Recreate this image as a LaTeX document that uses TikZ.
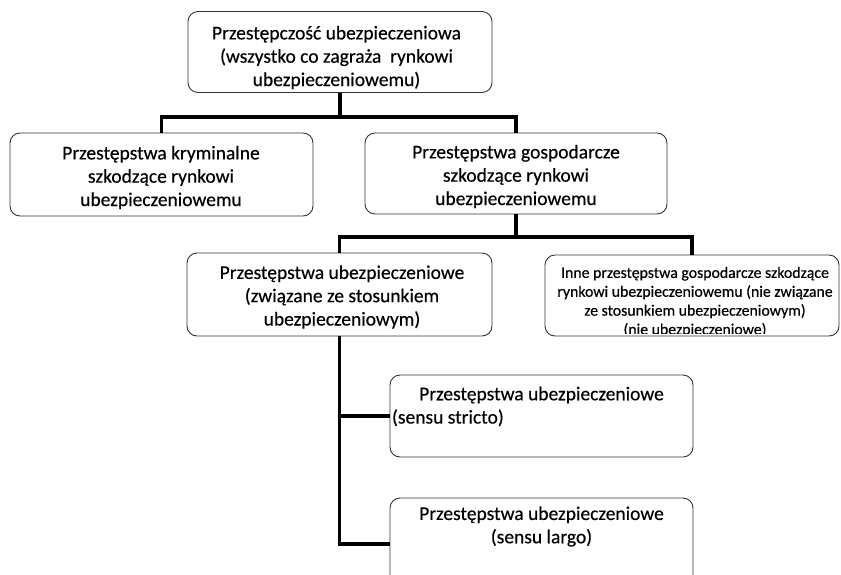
\documentclass[tikz,border=0pt]{standalone}
\usepackage{fontspec}
\setmainfont[FakeBold=0.35]{Carlito}
\begin{document}
\begin{tikzpicture}[x=1pt,y=-1pt,
  box/.style={draw=black!80, line width=0.9pt, rounded corners=10pt, inner sep=0pt},
  txt/.style={align=center, inner sep=0pt, font=\fontsize{19.5}{23.3}\selectfont},
  smalltxt/.style={align=center, inner sep=0pt, font=\fontsize{15.8}{18.9}\selectfont},
  conn/.style={line width=3.6pt, black}]
\clip (0,0) rectangle (841,574);
\fill[white] (0,0) rectangle (841,574);
% boxes
\node[box, minimum width=304pt, minimum height=81pt] (A) at (340,52) {};
\node[box, minimum width=303pt, minimum height=83pt] (B) at (161.5,174.5) {};
\node[box, minimum width=302pt, minimum height=81pt] (C) at (516,173.5) {};
\node[box, minimum width=305pt, minimum height=83pt] (D) at (339.5,294.5) {};
\node[box, minimum width=294pt, minimum height=81pt] (E) at (692,295.5) {};
\node[box, minimum width=303pt, minimum height=82pt] (F) at (541.5,416) {};
\node[box, minimum width=303pt, minimum height=92pt] (G) at (541.5,544) {};
% texts
\node[txt] (At) at (336.5,57.5) {Przestępczość ubezpieczeniowa\\(wszystko co zagraża\ \ rynkowi\\ubezpieczeniowemu)};
\node[txt] (Bt) at (161,177.5) {Przestępstwa kryminalne\\szkodzące rynkowi\\ubezpieczeniowemu};
\node[txt] (Ct) at (516,176.5) {Przestępstwa gospodarcze\\szkodzące rynkowi\\ubezpieczeniowemu};
\node[txt] (Dt) at (342,297) {Przestępstwa ubezpieczeniowe\\(związane ze stosunkiem\\ubezpieczeniowym)};
\begin{scope}
\clip (546,258) rectangle (838,333);
\node[smalltxt] (Et) at (695,302) {Inne przestępstwa gospodarcze szkodzące\\rynkowi ubezpieczeniowemu (nie związane\\ze stosunkiem ubezpieczeniowym)\\(nie ubezpieczeniowe)};
\end{scope}
\node[txt] (Ft) at (541.5,406.5) {\makebox[299pt]{Przestępstwa ubezpieczeniowe}\\\makebox[299pt][l]{(sensu stricto)}};
\node[txt] (Gt) at (541.5,526.5) {Przestępstwa ubezpieczeniowe\\(sensu largo)};
% junctions
\coordinate (j1) at (340,117);
\coordinate (j2) at (516,237);
% connectors
\draw[conn] (A.south) -- (j1);
\draw[conn] (B.north) -- (B.north |- j1) -- (C.north |- j1) -- (C.north);
\draw[conn] (C.south) -- (j2);
\draw[conn] (D.north) -- (D.north |- j2) -- (E.north |- j2) -- (E.north);
\draw[conn] (D.south) |- (G.west);
\draw[conn] (D.south |- F.west) -- (F.west);
\end{tikzpicture}
\end{document}
